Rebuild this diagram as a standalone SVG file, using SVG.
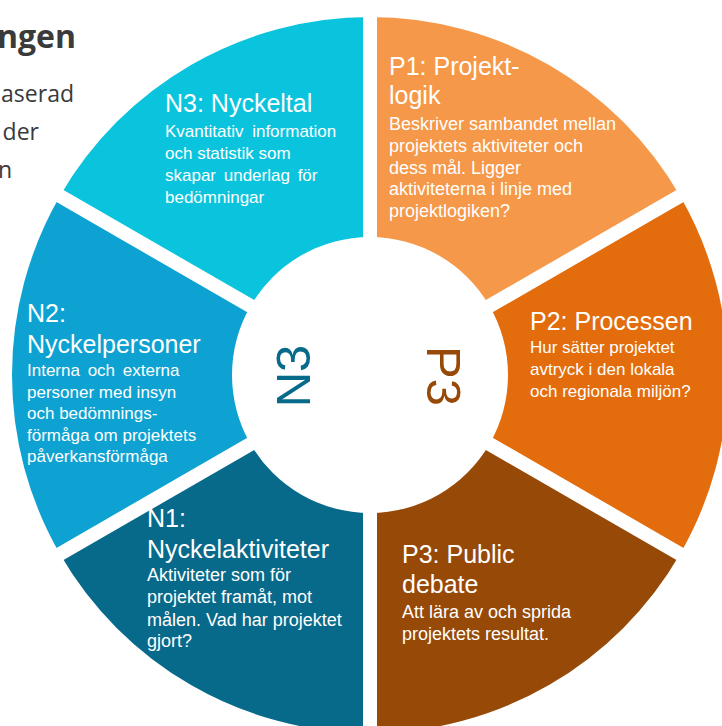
<svg xmlns="http://www.w3.org/2000/svg" width="722" height="726" viewBox="0 0 722 726">
<style>
.bg{font-family:"Open Sans","Liberation Sans",sans-serif;fill:#3a3a3a}
.t{font-family:"Liberation Sans",Arial,sans-serif;fill:#ffffff;font-size:25px}
.b{font-family:"Liberation Sans",Arial,sans-serif;fill:#ffffff;font-size:17px}
.b18{font-size:18px}
.ctr{font-family:"Liberation Sans",Arial,sans-serif;font-size:49px;text-anchor:middle}
.gap{stroke:#ffffff;stroke-width:14;fill:none}
</style>
<rect width="722" height="726" fill="#ffffff"/>
<g id="background-text">
<text class="bg" x="76" y="48" font-size="32" font-weight="bold" text-anchor="end" fill="#404040">ngen</text>
<text class="bg" x="74" y="102" font-size="23" text-anchor="end">aserad</text>
<text class="bg" x="39" y="140" font-size="23" text-anchor="end">der</text>
<text class="bg" x="12" y="178" font-size="23" text-anchor="end">n</text>
</g>
<g id="N3">
<path d="M59.96,196 A358,358 0 0 1 370,17 L370,237 A138,138 0 0 0 250.49,306 Z" fill="#0AC4DD"/>
</g>
<g id="P1">
<path d="M370,17 A358,358 0 0 1 680.04,196 L489.51,306 A138,138 0 0 0 370,237 Z" fill="#F69849"/>
</g>
<g id="P2">
<path d="M680.04,196 A358,358 0 0 1 680.04,554 L489.51,444 A138,138 0 0 0 489.51,306 Z" fill="#E36C0C"/>
</g>
<g id="P3">
<path d="M680.04,554 A358,358 0 0 1 370,733 L370,513 A138,138 0 0 0 489.51,444 Z" fill="#974907"/>
</g>
<g id="N1">
<path d="M370,733 A358,358 0 0 1 59.96,554 L250.49,444 A138,138 0 0 0 370,513 Z" fill="#086A8A"/>
</g>
<g id="N2">
<path d="M59.96,554 A358,358 0 0 1 59.96,196 L250.49,306 A138,138 0 0 0 250.49,444 Z" fill="#0DA2D2"/>
</g>
<g id="gaps">
<line class="gap" x1="370" y1="0" x2="370" y2="740"/>
<line class="gap" x1="716.4" y1="175" x2="23.6" y2="575"/>
<line class="gap" x1="716.4" y1="575" x2="23.6" y2="175"/>
</g>
<g id="labels">
<text class="t" x="165" y="112">N3: Nyckeltal</text>
<text class="b" x="165" y="137" word-spacing="4">Kvantitativ information</text>
<text class="b" x="165" y="159">och statistik som</text>
<text class="b" x="165" y="181" word-spacing="3">skapar underlag för</text>
<text class="b" x="165" y="203">bedömningar</text>

<text class="t" x="389" y="75">P1: Projekt-</text>
<text class="t" x="389" y="104">logik</text>
<text class="b b18" x="389" y="130">Beskriver sambandet mellan</text>
<text class="b b18" x="389" y="152">projektets aktiviteter och</text>
<text class="b b18" x="389" y="174">dess mål. Ligger</text>
<text class="b b18" x="389" y="195">aktiviteterna i linje med</text>
<text class="b b18" x="389" y="217">projektlogiken?</text>

<text class="t" x="530" y="330">P2: Processen</text>
<text class="b" x="530" y="353">Hur sätter projektet</text>
<text class="b" x="530" y="375">avtryck i den lokala</text>
<text class="b" x="530" y="397">och regionala miljön?</text>

<text class="t" x="402" y="563">P3: Public</text>
<text class="t" x="402" y="593">debate</text>
<text class="b b18" x="402" y="618">Att lära av och sprida</text>
<text class="b b18" x="402" y="640">projektets resultat.</text>

<text class="t" x="27" y="322">N2:</text>
<text class="t" x="27" y="353">Nyckelpersoner</text>
<text class="b" x="27" y="376" font-size="17.5" word-spacing="3">Interna och externa</text>
<text class="b" x="27" y="398" font-size="17.5">personer med insyn</text>
<text class="b" x="27" y="419" font-size="17.5">och bedömnings-</text>
<text class="b" x="27" y="441" font-size="17.5">förmåga om projektets</text>
<text class="b" x="27" y="462" font-size="17.5">påverkansförmåga</text>

<text class="t" x="147" y="527">N1:</text>
<text class="t" x="147" y="558">Nyckelaktiviteter</text>
<text class="b b18" x="147" y="581">Aktiviteter som för</text>
<text class="b b18" x="147" y="603">projektet framåt, mot</text>
<text class="b b18" x="147" y="626">målen. Vad har projektet</text>
<text class="b b18" x="147" y="647">gjort?</text>
</g>
<g id="center">
<text class="ctr" transform="translate(310,376) rotate(-90)" fill="#086A8A">N3</text>
<text class="ctr" transform="translate(427,376) rotate(90)" fill="#974907">P3</text>
</g>
</svg>
